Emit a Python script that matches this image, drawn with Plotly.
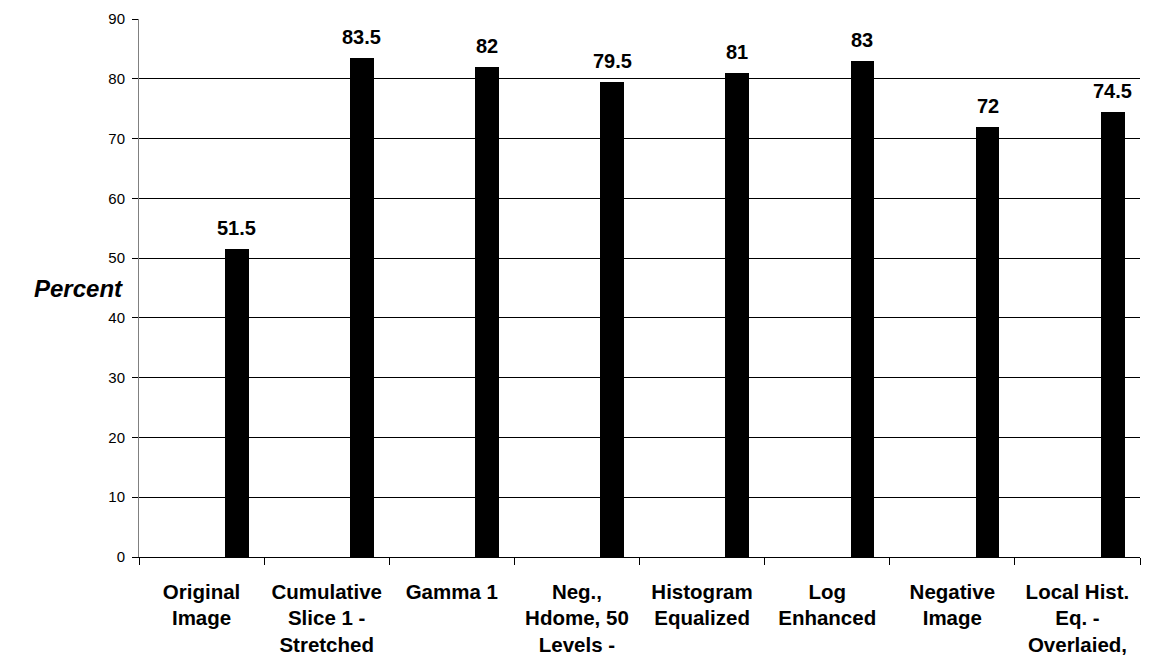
import plotly.graph_objects as go

# Category labels (wrapped as shown on the axis)
categories = [
    "Original<br>Image",
    "Cumulative<br>Slice 1 -<br>Stretched",
    "Gamma 1",
    "Neg.,<br>Hdome, 50<br>Levels -",
    "Histogram<br>Equalized",
    "Log<br>Enhanced",
    "Negative<br>Image",
    "Local Hist.<br>Eq. -<br>Overlaied,",
]
percent = [51.5, 83.5, 82, 79.5, 81, 83, 72, 74.5]
y_ticks = [0, 10, 20, 30, 40, 50, 60, 70, 80, 90]
inner_grid = [10, 20, 30, 40, 50, 60, 70, 80]

FONT = "Arial, 'Liberation Sans', sans-serif"
BAR_OFFSET = 0.187
BAR_WIDTH = 0.19

bold_categories = [f"<b>{c}</b>" for c in categories]

fig = go.Figure()
fig.add_trace(go.Bar(
    x=bold_categories,
    y=percent,
    offset=BAR_OFFSET,
    width=BAR_WIDTH,
    marker=dict(color="#000000", line=dict(width=0)),
    hoverinfo="y",
    showlegend=False,
))

# invisible trace that carries the second y axis (dark inner gridlines)
fig.add_trace(go.Scatter(
    x=bold_categories[:1], y=[None], yaxis="y2", showlegend=False,
    hoverinfo="skip", mode="markers", marker=dict(opacity=0),
))

# Value labels above each bar
for i, v in enumerate(percent):
    fig.add_annotation(
        x=i + BAR_OFFSET + BAR_WIDTH / 2, y=v, xref="x", yref="y",
        text=f"<b>{v:g}</b>", showarrow=False,
        yanchor="bottom", yshift=8,
        font=dict(family=FONT, size=20, color="#000000"),
    )

# Axis title, horizontal at the left of the plot
fig.add_annotation(
    x=-0.06, y=0.5, xref="paper", yref="paper",
    text="<b><i>Percent</i></b>", showarrow=False,
    xanchor="center", yanchor="middle",
    font=dict(family=FONT, size=24, color="#000000"),
)

fig.update_layout(
    width=1149, height=662,
    margin=dict(l=139, r=9, t=19, b=105),
    paper_bgcolor="#ffffff",
    plot_bgcolor="#ffffff",
    bargap=0,
    font=dict(family=FONT, color="#000000"),
    xaxis=dict(
        type="category",
        tickson="boundaries",
        ticks="outside", ticklen=7, tickcolor="#000000", tickwidth=1,
        showline=True, linecolor="#000000", linewidth=1,
        showgrid=False,
        tickfont=dict(family=FONT, size=20.5, color="#000000"),
        tickangle=0,
        range=[-0.5, len(categories) - 0.5],
        ticklabelstandoff=16,
        automargin=False,
    ),
    yaxis=dict(
        range=[0, 90],
        tickvals=y_ticks,
        ticks="outside", ticklen=6, tickcolor="#000000", tickwidth=1,
        showline=True, linecolor="#808080", linewidth=1,
        showgrid=True, gridcolor="#e6e6e6", gridwidth=1,
        zeroline=False,
        tickfont=dict(family=FONT, size=15, color="#000000"),
        ticklabelstandoff=4,
        automargin=False,
    ),
    yaxis2=dict(
        overlaying="y", range=[0, 90], tickvals=inner_grid,
        showticklabels=False, ticks="", showline=False,
        showgrid=True, gridcolor="#000000", gridwidth=1,
        zeroline=False, automargin=False,
    ),
)

fig.write_html("out.html")
